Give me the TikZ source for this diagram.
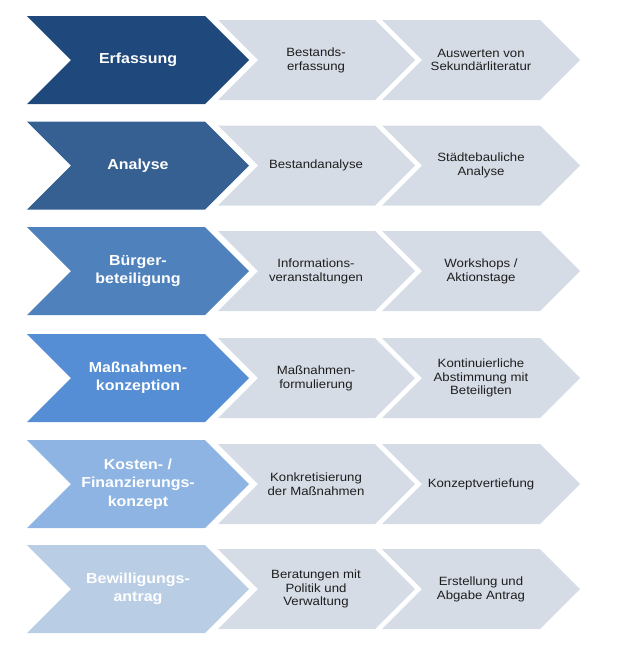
\documentclass[tikz,border=0pt]{standalone}
\usepackage{fontspec}
\setmainfont{Liberation Sans}[FakeStretch=1.1]
\usepackage{xcolor}

\definecolor{phaseA}{HTML}{1F497D}
\definecolor{phaseB}{HTML}{366092}
\definecolor{phaseC}{HTML}{4F81BD}
\definecolor{phaseD}{HTML}{558ED5}
\definecolor{phaseE}{HTML}{8DB4E2}
\definecolor{phaseF}{HTML}{B9CDE5}
\definecolor{stepgray}{HTML}{D6DCE6}
\definecolor{steptext}{HTML}{1E1E1E}

\tikzset{
  phasetext/.style={align=center, text=white, font=\bfseries\fontsize{14.5}{18.3}\selectfont},
  steptext/.style={align=center, text=steptext, font=\fontsize{12}{13.8}\selectfont},
  stepshape/.style={fill=stepgray}
}

% #1 name, #2 y, #3 colour, #4 phase, #5 first step, #6 second step
\newcommand{\prozesszeile}[6]{
  \fill[#3] (27,#2-44) -- (205,#2-44) -- (249,#2) -- (205,#2+44) -- (27,#2+44) -- (71,#2) -- cycle;
  \fill[stepshape] (218,#2-40) -- (375,#2-40) -- (415,#2) -- (375,#2+40) -- (218,#2+40) -- (258,#2) -- cycle;
  \fill[stepshape] (382,#2-40) -- (540,#2-40) -- (580,#2) -- (540,#2+40) -- (382,#2+40) -- (422,#2) -- cycle;
  \node[phasetext] (#1) at (138,#2) {#4};
  \node[steptext] (#1-a) at (316,#2) {#5};
  \node[steptext] (#1-b) at (481,#2) {#6};
}

\begin{document}
\begin{tikzpicture}[x=1pt, y=-1pt]
\useasboundingbox (0,0) rectangle (620,648);
\prozesszeile{erfassung}{60}{phaseA}{Erfassung}{Bestands-\\erfassung}{Auswerten von\\Sekundärliteratur}
\prozesszeile{analyse}{165.5}{phaseB}{Analyse}{Bestandanalyse}{Städtebauliche\\Analyse}
\prozesszeile{beteiligung}{271}{phaseC}{Bürger-\\beteiligung}{Informations-\\veranstaltungen}{Workshops /\\Aktionstage}
\prozesszeile{konzeption}{378}{phaseD}{Maßnahmen-\\konzeption}{Maßnahmen-\\formulierung}{Kontinuierliche\\Abstimmung mit\\Beteiligten}
\prozesszeile{kosten}{484}{phaseE}{Kosten- /\\Finanzierungs-\\konzept}{Konkretisierung\\der Maßnahmen}{Konzeptvertiefung}
\prozesszeile{antrag}{589}{phaseF}{Bewilligungs-\\antrag}{Beratungen mit\\Politik und\\Verwaltung}{Erstellung und\\Abgabe Antrag}
\end{tikzpicture}
\end{document}
